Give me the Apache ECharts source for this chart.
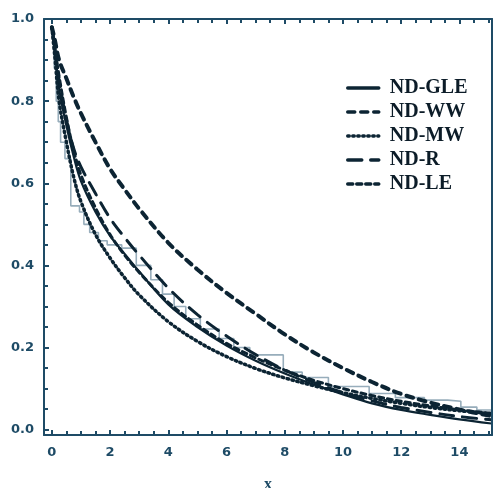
<!DOCTYPE html>
<html>
<head>
<meta charset="utf-8">
<script src="https://cdn.jsdelivr.net/npm/echarts@6/dist/echarts.min.js"></script>
<style>
  html, body { margin: 0; padding: 0; background: #fff; }
  #chart_box { width: 494px; height: 488px; }
</style>
</head>
<body>
<div id="chart_box"></div>
<script>
// x positions of the fitted curves
let xs = [0, 0.1, 0.25, 0.5, 0.75, 1, 1.5, 2, 2.5, 3, 4, 5, 6, 7, 8, 9, 10, 11, 12, 13, 14, 15.1]
let ndGLE = [0.98, 0.93, 0.83, 0.74, 0.665, 0.605, 0.53, 0.472, 0.428, 0.385, 0.305, 0.25, 0.205, 0.168, 0.137, 0.11, 0.086, 0.064, 0.048, 0.036, 0.025, 0.015]
let ndWW = [0.98, 0.95, 0.90, 0.855, 0.81, 0.77, 0.70, 0.635, 0.585, 0.538, 0.455, 0.39, 0.333, 0.282, 0.232, 0.188, 0.15, 0.116, 0.087, 0.066, 0.049, 0.033]
let ndMW = [0.98, 0.91, 0.80, 0.70, 0.615, 0.555, 0.475, 0.418, 0.37, 0.328, 0.263, 0.215, 0.178, 0.149, 0.126, 0.107, 0.09, 0.076, 0.064, 0.054, 0.046, 0.039]
let ndR = [0.98, 0.93, 0.85, 0.755, 0.685, 0.64, 0.575, 0.515, 0.468, 0.425, 0.345, 0.28, 0.228, 0.183, 0.145, 0.115, 0.09, 0.07, 0.054, 0.042, 0.032, 0.024]
let ndLE = [0.98, 0.93, 0.86, 0.76, 0.68, 0.62, 0.54, 0.475, 0.425, 0.383, 0.31, 0.255, 0.21, 0.175, 0.145, 0.12, 0.1, 0.083, 0.069, 0.058, 0.048, 0.04]
// empirical survival (step)
let empX = [0, 0.08, 0.15, 0.22, 0.3, 0.45, 0.65, 0.95, 1.1, 1.3, 1.6, 1.9, 2.4, 2.9, 3.4, 3.8, 4.2, 4.6, 5.1, 5.75, 6.25, 6.8, 7.95, 8.6, 9.5, 10.9, 11.8, 12.8, 13.6, 14.05, 14.6, 15.1]
let empY = [0.97, 0.88, 0.80, 0.75, 0.70, 0.66, 0.545, 0.53, 0.50, 0.48, 0.46, 0.45, 0.442, 0.40, 0.365, 0.33, 0.30, 0.27, 0.245, 0.222, 0.20, 0.182, 0.14, 0.127, 0.105, 0.088, 0.078, 0.072, 0.069, 0.055, 0.048, 0.045]

let axisColor = '#1e4b66'
let curveColor = '#0c2433'

function pairs(xArr, yArr){
    return xArr.map((x, i) => [x, yArr[i]])
}

function curve(name, data, width, type){
    return {
        name: name,
        type: 'line',
        data: pairs(xs, data),
        smooth: 0.35,
        symbol: 'none',
        lineStyle: {
            color: curveColor,
            width: width,
            type: type,
            cap: 'round'
        },
        itemStyle: { color: curveColor },
        z: 3
    }
}

// frame axis with short inside ticks (dotted look of the original)
function frameAxis(extra){
    return Object.assign({
        type: 'value',
        z: 10,
        axisLine: { show: true, onZero: false, lineStyle: { color: axisColor, width: 2 } },
        axisTick: { show: true, inside: true, length: 5, lineStyle: { color: axisColor, width: 2 } },
        minorTick: { show: true, splitNumber: 4, length: 4, lineStyle: { color: axisColor, width: 2 } },
        splitLine: { show: false }
    }, extra)
}

let myChart = echarts.init(document.getElementById('chart_box'))
let option = {
    animation: false,
    grid: { left: 44, right: 2, top: 19, bottom: 53, outerBoundsMode: 'none' },
    legend: {
        orient: 'vertical',
        left: 346,
        top: 78,
        padding: 0,
        itemWidth: 31,
        itemHeight: 14,
        itemGap: 4,
        itemStyle: { opacity: 0 },
        lineStyle: { width: 3.5 },
        data: ['ND-GLE', 'ND-WW', 'ND-MW', 'ND-R', 'ND-LE'],
        textStyle: {
            fontFamily: 'Liberation Serif',
            fontWeight: 'bold',
            fontSize: 20,
            color: '#0c1c28',
            padding: [0, 0, 0, 6]
        }
    },
    xAxis: [
        frameAxis({
            min: -0.27,
            max: 15.12,
            splitNumber: 8,
            name: 'x',
            nameLocation: 'middle',
            nameGap: 42,
            nameTextStyle: { fontFamily: 'Liberation Serif', fontWeight: 'bold', fontSize: 16, color: axisColor },
            axisLabel: {
                showMinLabel: false, showMaxLabel: false, margin: 11,
                fontFamily: 'DejaVu Sans', fontWeight: 'bold', fontSize: 13, color: axisColor
            }
        }),
        frameAxis({
            position: 'top',
            min: -0.27,
            max: 15.12,
            splitNumber: 8,
            axisLabel: { show: false }
        })
    ],
    yAxis: [
        frameAxis({
            min: -0.013,
            max: 1.0,
            splitNumber: 5,
            axisLabel: {
                showMinLabel: false, margin: 10,
                formatter: function (v) { return v.toFixed(1) },
                fontFamily: 'DejaVu Sans', fontWeight: 'bold', fontSize: 13, color: axisColor
            }
        }),
        frameAxis({
            position: 'right',
            min: -0.013,
            max: 1.0,
            splitNumber: 5,
            axisTick: { show: false },
            minorTick: { show: false },
            axisLabel: { show: false }
        })
    ],
    series: [
        {
            name: 'empirical',
            type: 'line',
            data: pairs(empX, empY),
            step: 'end',
            symbol: 'none',
            lineStyle: { color: '#97adbb', width: 1.6 },
            z: 2
        },
        curve('ND-GLE', ndGLE, 2.2, 'solid'),
        curve('ND-WW', ndWW, 4, [7, 6]),
        curve('ND-MW', ndMW, 3.5, [1.5, 3.5]),
        curve('ND-R', ndR, 3, [14, 9]),
        curve('ND-LE', ndLE, 3, [5, 4])
    ]
};
myChart.setOption(option, true);
</script>
</body>
</html>
